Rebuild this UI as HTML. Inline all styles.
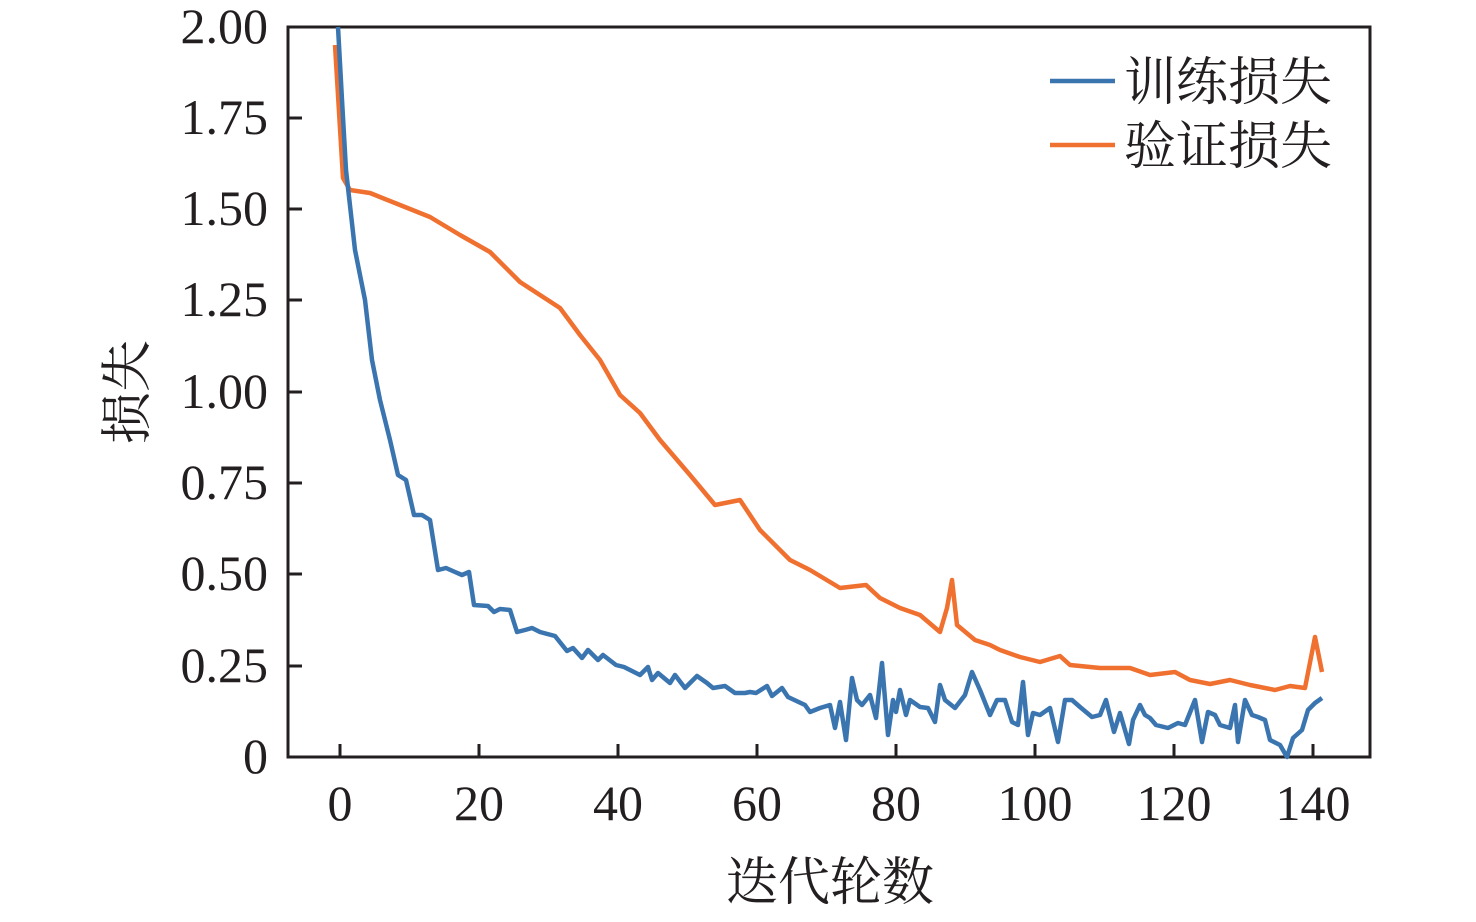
<!DOCTYPE html>
<html><head><meta charset="utf-8"><style>html,body{margin:0;padding:0;background:#fff}</style></head><body>
<svg width="1476" height="917" xmlns="http://www.w3.org/2000/svg" font-family="'Liberation Serif','Noto Serif CJK SC',serif" fill="#231f20">
<g stroke="#231f20" stroke-width="3" fill="none">
<rect x="288" y="27" width="1082" height="730"/>
<path d="M288 666h14M288 574h14M288 483h14M288 392h14M288 300h14M288 209h14M288 118h14"/>
<path d="M340 757v-13M479 757v-13M618 757v-13M757 757v-13M896 757v-13M1035 757v-13M1174 757v-13M1313 757v-13"/>
</g>
<g font-size="50" text-anchor="end">
<text x="268" y="773">0</text><text x="268" y="682">0.25</text><text x="268" y="590">0.50</text><text x="268" y="499">0.75</text><text x="268" y="408">1.00</text><text x="268" y="316">1.25</text><text x="268" y="225">1.50</text><text x="268" y="134">1.75</text><text x="268" y="43">2.00</text>
</g>
<g font-size="50" text-anchor="middle">
<text x="340" y="820">0</text><text x="479" y="820">20</text><text x="618" y="820">40</text><text x="757" y="820">60</text><text x="896" y="820">80</text><text x="1035" y="820">100</text><text x="1174" y="820">120</text><text x="1313" y="820">140</text>
</g>
<text x="830" y="900" font-size="52" text-anchor="middle">迭代轮数</text>
<text transform="translate(145,392) rotate(-90)" font-size="52" text-anchor="middle">损失</text>
<g fill="none" stroke-width="4.5" stroke-linejoin="round">
<polyline stroke="#f07030" points="335,45 343,178 350,190 370,193 400,205 430,217 460,235 490,252 520,282 540,295 560,308 580,335 600,360 620,395 640,413 660,440 690,475 715,505 740,500 760,530 790,560 810,570 840,588 866,585 880,598 900,608 920,615 940,632 947,608 952,580 957,625 975,640 990,645 1000,650 1020,657 1040,662 1060,656 1070,665 1100,668 1130,668 1150,675 1175,672 1190,680 1210,684 1230,680 1250,685 1275,690 1290,686 1305,688 1315,637 1322,672"/>
<polyline stroke="#3a75b0" points="338,27 342,100 346,170 355,250 365,300 372,360 380,400 390,440 398,475 406,480 414,515 422,515 430,520 438,570 446,568 455,572 462,575 469,572 474,605 488,606 494,612 500,609 510,610 517,632 525,630 532,628 540,632 555,636 567,651 573,648 582,658 588,650 598,660 603,655 616,665 624,667 640,675 648,667 652,680 658,673 670,683 675,675 685,688 697,676 707,683 713,688 725,686 735,693 745,693 750,692 756,693 767,686 772,696 782,688 788,697 805,705 810,712 820,708 830,705 835,728 840,702 846,740 852,678 857,700 862,705 870,695 876,718 882,663 888,735 893,700 896,712 900,690 906,715 910,700 920,707 928,708 935,722 940,685 945,700 955,708 965,695 972,672 980,690 990,715 997,700 1005,700 1012,722 1018,725 1023,682 1028,735 1033,713 1040,715 1050,708 1058,742 1065,700 1072,700 1080,707 1092,717 1100,715 1106,700 1114,732 1120,713 1129,744 1133,720 1140,705 1145,715 1150,718 1156,725 1168,728 1178,723 1185,725 1195,700 1202,742 1208,712 1215,715 1220,725 1230,728 1235,705 1238,742 1245,700 1252,715 1258,717 1265,720 1270,740 1280,745 1287,757 1293,738 1302,730 1308,710 1315,703 1322,698"/>
<line x1="1050" y1="81" x2="1115" y2="81" stroke="#3a75b0"/>
<line x1="1050" y1="145" x2="1115" y2="145" stroke="#f07030"/>
</g>
<text x="1124" y="100" font-size="52">训练损失</text>
<text x="1124" y="164" font-size="52">验证损失</text>
</svg>
</body></html>
